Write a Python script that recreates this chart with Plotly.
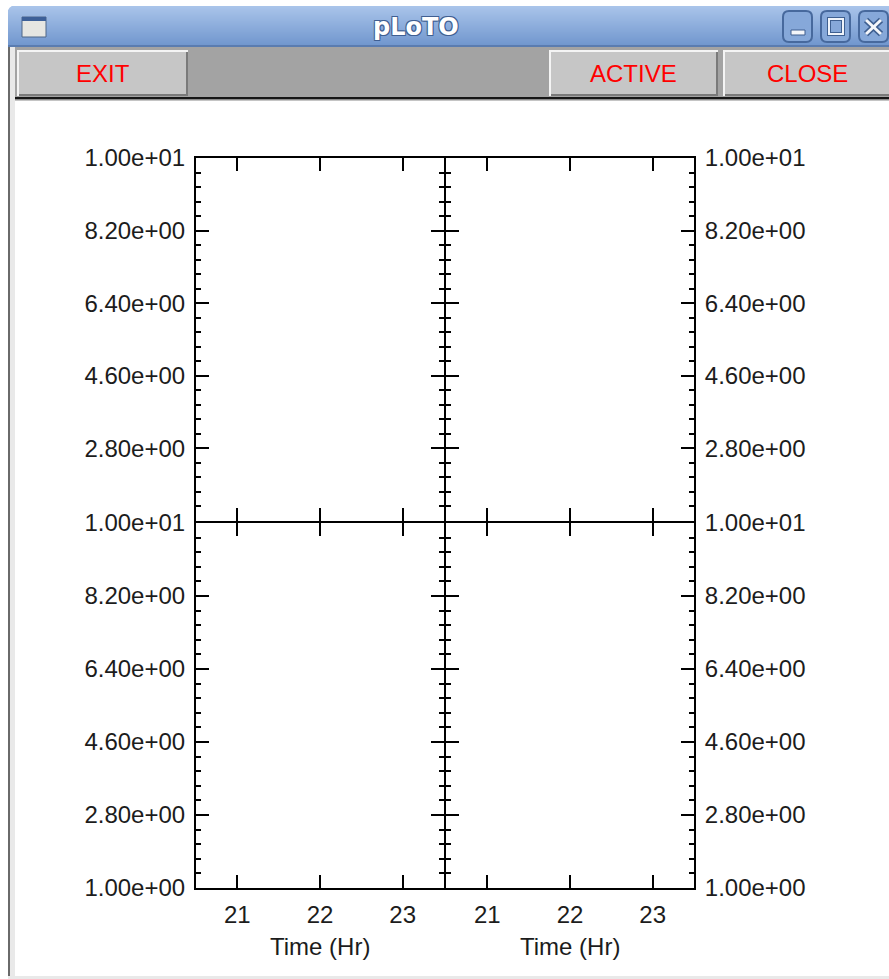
import plotly.graph_objects as go

FIG_W, FIG_H = 889, 979

# ---- axis content -------------------------------------------------------
hours = [21, 22, 23]
hour_range = [20.5, 23.5]
value_range = [1.0, 10.0]
value_ticks = [10.0, 8.2, 6.4, 4.6, 2.8, 1.0]
value_labels = ["1.00e+01", "8.20e+00", "6.40e+00", "4.60e+00", "2.80e+00", "1.00e+00"]
minor_step = 0.36
x_title = "Time (Hr)"
window_title = "pLoTO"
toolbar_buttons = ["EXIT", "ACTIVE", "CLOSE"]

# ---- layout geometry (pixels, inner edges of each panel) ----------------
col_boxes = [(196, 444), (446, 694)]
row_boxes = [(158, 521), (523, 888)]


def px(x):
    return x / FIG_W


def py(y):
    return 1 - y / FIG_H


LABEL_FONT = dict(family="Liberation Sans Narrow, Arial Narrow, Liberation Sans, sans-serif",
                  size=24, color="#1c1c1c")

fig = go.Figure()
annotations = []

panels = [(0, 0), (0, 1), (1, 0), (1, 1)]
for i, (r, c) in enumerate(panels):
    n = i + 1
    sfx = "" if n == 1 else str(n)
    fig.add_trace(go.Scatter(x=[], y=[], mode="lines", showlegend=False,
                             xaxis="x" + sfx, yaxis="y" + sfx))
    common = dict(showline=True, linecolor="black", linewidth=2, mirror="ticks",
                  ticks="inside", ticklen=13, tickwidth=2, tickcolor="black",
                  showgrid=False, zeroline=False, fixedrange=True, automargin=False,
                  tickfont=LABEL_FONT)
    cx0, cx1 = col_boxes[c]
    ry0, ry1 = row_boxes[r]
    xa = dict(common,
              domain=[px(cx0), px(cx1)],
              range=hour_range, tickmode="array", tickvals=hours,
              ticktext=[str(h) for h in hours],
              showticklabels=(r == 1), anchor="y" + sfx,
              ticklabelstandoff=4)
    ylabels = value_labels if r == 1 else value_labels[:-1] + [""]
    ya = dict(common,
              domain=[py(ry1), py(ry0)],
              range=value_range, tickmode="array", tickvals=value_ticks,
              ticktext=ylabels, side="left" if c == 0 else "right",
              anchor="x" + sfx, ticklabelstandoff=4,
              minor=dict(ticks="inside", ticklen=5, tickwidth=2, tickcolor="black",
                         tick0=value_range[0], dtick=minor_step, showgrid=False))
    fig.layout["xaxis" + sfx] = xa
    fig.layout["yaxis" + sfx] = ya
    if r == 1:
        annotations.append(dict(text=x_title, xref="x" + sfx, x=hours[1],
                                yref="paper", y=py(946), xanchor="center",
                                yanchor="middle", showarrow=False, font=LABEL_FONT))

# ---- window decoration --------------------------------------------------
shapes = []


def rect(x0, y0, x1, y1, fill, line=None, lw=0):
    shapes.append(dict(type="rect", xref="paper", yref="paper",
                       x0=px(x0), x1=px(x1), y0=py(y1), y1=py(y0),
                       fillcolor=fill, line=dict(width=lw, color=line or fill)))


def hexrgb(h):
    h = h.lstrip("#")
    return [int(h[k:k + 2], 16) for k in (0, 2, 4)]


def mix(c1, c2, t):
    a, b = hexrgb(c1), hexrgb(c2)
    return "rgb(%d,%d,%d)" % tuple(round(a[k] + (b[k] - a[k]) * t) for k in range(3))


def rounded(x0, y0, x1, y1, r):
    pts = [
        "M %f,%f" % (px(x0 + r), py(y0)),
        "L %f,%f" % (px(x1 - r), py(y0)),
        "Q %f,%f %f,%f" % (px(x1), py(y0), px(x1), py(y0 + r)),
        "L %f,%f" % (px(x1), py(y1 - r)),
        "Q %f,%f %f,%f" % (px(x1), py(y1), px(x1 - r), py(y1)),
        "L %f,%f" % (px(x0 + r), py(y1)),
        "Q %f,%f %f,%f" % (px(x0), py(y1), px(x0), py(y1 - r)),
        "L %f,%f" % (px(x0), py(y0 + r)),
        "Q %f,%f %f,%f" % (px(x0), py(y0), px(x0 + r), py(y0)),
        "Z",
    ]
    return " ".join(pts)


def line(x0, y0, x1, y1, color, w):
    shapes.append(dict(type="line", xref="paper", yref="paper",
                       x0=px(x0), x1=px(x1), y0=py(y0), y1=py(y1),
                       line=dict(color=color, width=w)))


# title bar gradient
tb_top, tb_bot = 6, 47
steps = tb_bot - tb_top
for k in range(steps):
    rect(8, tb_top + k, FIG_W, tb_top + k + 1, mix("#a9c4ea", "#6f95cd", k / (steps - 1)))
rect(8, 45, FIG_W, 47, "#5a7cb0")
# rounded top-left corner
shapes.append(dict(type="path", xref="paper", yref="paper",
                   path="M %f,%f L %f,%f Q %f,%f %f,%f Z" % (
                       px(7), py(5), px(15), py(5), px(8), py(6), px(7), py(14)),
                   fillcolor="white", line=dict(width=0)))

# window icon
rect(22, 17, 46, 37, "#e6e6e2", "#4f6688", 1)
rect(22, 17, 46, 21, "#3d6098", "#3d6098", 0)

# title-bar buttons
for bx in (783, 821, 859):
    shapes.append(dict(type="path", xref="paper", yref="paper",
                       path=rounded(bx, 11, bx + 29, 42, 6),
                       fillcolor="#86a8d9", line=dict(color="#47699d", width=2)))
# minimise
rect(791, 30, 805, 35, "#f4f6fa", "#3e5f90", 1)
# maximise
rect(829, 19, 843, 34, "rgba(0,0,0,0)", "#3e5f90", 4)
rect(829, 19, 843, 34, "rgba(0,0,0,0)", "#f0f4fa", 2)
# close
line(866, 20, 881, 34, "#3e5f90", 6)
line(881, 20, 866, 34, "#3e5f90", 6)
line(866, 20, 881, 34, "#f4f6fa", 3)
line(881, 20, 866, 34, "#f4f6fa", 3)

# frame
rect(8, 47, 15, FIG_H, "#e9e9e9")
rect(8, 47, 10, FIG_H, "#6a6a6a")
rect(8, 976, FIG_W, FIG_H, "#e9e9e9")

# toolbar
rect(15, 47, FIG_W, 97, "#a3a3a3")
button_boxes = [(17, 188), (549, 718), (723, FIG_W + 4)]
for (bx0, bx1) in button_boxes:
    rect(bx0, 50, bx1, 96, "#f4f4f4")
    rect(bx0 + 2, 52, bx1, 96, "#7a7a7a")
    rect(bx0 + 2, 52, bx1 - 2, 94, "#c6c6c6")
rect(15, 97, FIG_W, 99.5, "#161616")
rect(15, 99.5, FIG_W, 100.5, "#8a8a8a")

for label, (bx0, bx1) in zip(toolbar_buttons, button_boxes):
    cx = (bx0 + bx1) / 2
    if label == "CLOSE":
        cx = 807
    annotations.append(dict(text=label, x=px(cx), y=py(73), xref="paper", yref="paper",
                            xanchor="center", yanchor="middle", showarrow=False,
                            font=dict(family="Liberation Sans, Arial, sans-serif",
                                      size=24, color="#ff0000")))

outline = "#3f5f92"
annotations.append(dict(text="<b>%s</b>" % window_title, x=px(416), y=py(27),
                        xref="paper", yref="paper", xanchor="center", yanchor="middle",
                        showarrow=False,
                        font=dict(family="DejaVu Sans, sans-serif", size=24, color="white",
                                  shadow="-1px -1px 0 %s, 1px -1px 0 %s, -1px 1px 0 %s, 1px 1px 0 %s"
                                  % (outline, outline, outline, outline))))

fig.update_layout(
    template="none",
    width=FIG_W, height=FIG_H, autosize=False,
    margin=dict(l=0, r=0, t=0, b=0, pad=0, autoexpand=False),
    paper_bgcolor="white", plot_bgcolor="white",
    shapes=shapes, annotations=annotations,
    showlegend=False,
)

fig.write_html("out.html", config=dict(displayModeBar=False))
